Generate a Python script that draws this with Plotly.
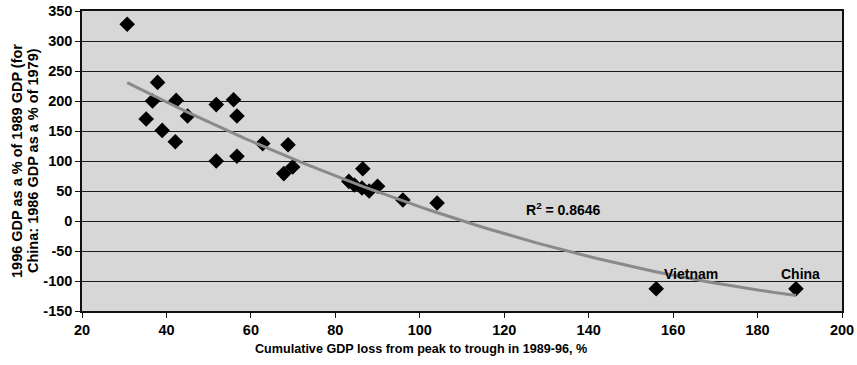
import numpy as np
import plotly.graph_objects as go

# Cumulative GDP loss from peak to trough, 1989-96 (%)
gdp_loss = [30.7, 35.2, 36.7, 37.9, 39.0, 42.1, 42.3, 45.0, 51.8, 51.8,
            55.9, 56.7, 56.7, 62.8, 68.8, 67.8, 69.9, 83.2, 84.5, 86.5,
            86.3, 88.0, 90.0, 96.0, 104.1, 156.0, 189.1]
# 1996 GDP as a % of 1989 GDP (China: 1986 as a % of 1979)
gdp_1996 = [328, 170, 200, 231, 151, 132, 201, 175, 194, 100,
            202, 175, 108, 129, 127, 79, 90, 66, 60, 87,
            55, 50, 58, 35, 30, -113, -113]

labels = ["Vietnam", "China"]
label_x = [157.3, 185.0]
label_y = [-88, -88]
r2_text = "R<sup>2</sup> = 0.8646"

x_ticks = [20, 40, 60, 80, 100, 120, 140, 160, 180, 200]
y_ticks = [-150, -100, -50, 0, 50, 100, 150, 200, 250, 300, 350]

# Quadratic trend line fitted to the scatter
coef = np.polyfit(gdp_loss, gdp_1996, 2)
trend_x = np.linspace(min(gdp_loss), max(gdp_loss), 120)
trend_y = np.polyval(coef, trend_x)

FONT = "Liberation Sans, Arial, sans-serif"

fig = go.Figure()
fig.add_trace(go.Scatter(
    x=gdp_loss, y=gdp_1996, mode="markers",
    marker=dict(symbol="diamond", size=12, color="black",
                line=dict(width=0)),
    showlegend=False, hoverinfo="x+y"))
fig.add_trace(go.Scatter(
    x=trend_x, y=trend_y, mode="lines",
    line=dict(color="#8a8a8a", width=3),
    showlegend=False, hoverinfo="skip"))

for t, lx, ly in zip(labels, label_x, label_y):
    fig.add_annotation(x=lx, y=ly, text=f"<b>{t}</b>", showarrow=False,
                       xanchor="left", yanchor="middle",
                       font=dict(family=FONT, size=14, color="black"))
fig.add_annotation(x=124.6, y=1, text=f"<b>{r2_text}</b>", showarrow=False,
                   xanchor="left", yanchor="bottom",
                   font=dict(family=FONT, size=14, color="black"))

# Two-line vertical axis title
ytitle = ["1996 GDP as a % of 1989 GDP (for", "China: 1986 GDP as a % of 1979)"]
for i, line in enumerate(ytitle):
    fig.add_annotation(xref="paper", yref="paper",
                       x=(17 + 16 * i - 82) / 760, y=0.5,
                       text=f"<b>{line}</b>", textangle=-90,
                       showarrow=False, xanchor="center", yanchor="middle",
                       font=dict(family=FONT, size=14.5, color="black"))

# X-axis title placed below the tick labels
fig.add_annotation(xref="paper", yref="paper", x=(421 - 82) / 760,
                   y=-(349 - 311) / 300,
                   text="<b>Cumulative GDP loss from peak to trough in 1989-96, %</b>",
                   showarrow=False, xanchor="center", yanchor="middle",
                   font=dict(family=FONT, size=12.6, color="black"))

fig.update_layout(
    width=857, height=365,
    margin=dict(l=82, r=15, t=11, b=54, autoexpand=False),
    paper_bgcolor="white", plot_bgcolor="#d7d7d7",
    font=dict(family=FONT, color="black"),
    xaxis=dict(range=[20, 200], tickvals=x_ticks,
               ticktext=[f"<b>{v}</b>" for v in x_ticks],
               showgrid=False, zeroline=False, automargin=False,
               showline=True, linecolor="#111", linewidth=1.5, mirror=True,
               ticks="outside", ticklen=5, tickcolor="#111",
               tickfont=dict(family=FONT, size=14.5)),
    yaxis=dict(range=[-150, 350], tickvals=y_ticks,
               ticktext=[f"<b>{v}</b>" for v in y_ticks],
               showgrid=True, gridcolor="#1a1a1a", gridwidth=1,
               zeroline=False, automargin=False,
               showline=True, linecolor="#111", linewidth=1.5, mirror=True,
               ticks="outside", ticklen=5, tickcolor="#111",
               tickfont=dict(family=FONT, size=14.5)),
)

fig.write_html("out.html")
